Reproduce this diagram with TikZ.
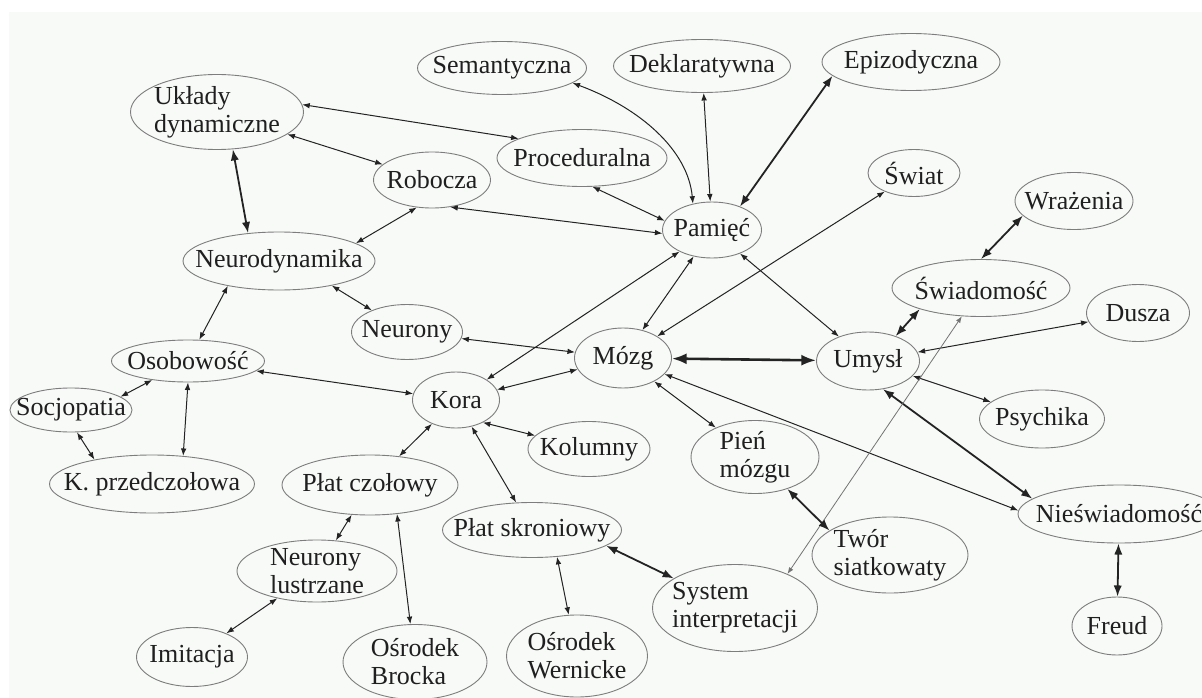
\documentclass[tikz,border=0pt]{standalone}
\usepackage{fontspec}
\setmainfont{Liberation Serif}
\usetikzlibrary{arrows.meta, shapes.geometric}

\definecolor{tlo}{RGB}{247,250,247}
\definecolor{obwod}{RGB}{125,125,125}
\definecolor{linia}{RGB}{35,35,35}

\begin{document}
\begin{tikzpicture}[
    x = 1pt,
    y = -1pt,
    line width = 1pt,
    >=Latex,
    ]

    \tikzstyle{pojecie}=[
    ellipse,
    draw = obwod,
    line width = 0.9pt,
    fill = tlo,
    inner xsep = -60pt,
    inner ysep = -14pt,
    align = left,
    text = black!88,
    font = \fontsize{26}{28}\selectfont,
    ]
    \tikzstyle{every edge}=[draw = linia]
    \tikzstyle{gruba}=[line width = 1.8pt]
    \tikzstyle{bardzo gruba}=[line width = 2.6pt]
    \tikzstyle{cienka}=[line width = 0.8pt, draw = black!55]

    \useasboundingbox (0,0) rectangle (1202,698);
    \fill[tlo] (9,12) rectangle (1202,698);

    % pamiec
    \node[pojecie, minimum width=169, minimum height=53] (semantyczna) at (502,68) {Semantyczna};
    \node[pojecie, minimum width=177, minimum height=53] (deklaratywna) at (702,66) {Deklaratywna};
    \node[pojecie, minimum width=178, minimum height=57] (epizodyczna) at (911,62) {Epizodyczna};
    \node[pojecie, minimum width=170, minimum height=57] (proceduralna) at (582,158) {Proceduralna};
    \node[pojecie, minimum width=117, minimum height=56] (robocza) at (432,180) {Robocza};
    \node[pojecie, minimum width=99, minimum height=56] (pamiec) at (712,230) {Pamięć};

    % neurodynamika
    \node[pojecie, minimum width=173, minimum height=75] (uklady) at (217,112) {Układy\\dynamiczne};
    \node[pojecie, minimum width=192, minimum height=58] (neurodyn) at (279,261) {Neurodynamika};
    \node[pojecie, minimum width=111, minimum height=55] (neurony) at (407,332) {Neurony};

    % umysl
    \node[pojecie, minimum width=92, minimum height=47] (swiat) at (914,173) {Świat};
    \node[pojecie, minimum width=118, minimum height=57] (wrazenia) at (1074,201) {Wrażenia};
    \node[pojecie, minimum width=178, minimum height=57] (swiadomosc) at (981,288) {Świadomość};
    \node[pojecie, minimum width=103, minimum height=57] (dusza) at (1138,313) {Dusza};
    \node[pojecie, minimum width=97, minimum height=60] (mozg) at (623,358) {Mózg};
    \node[pojecie, minimum width=103, minimum height=58] (umysl) at (868,361) {Umysł};
    \node[pojecie, minimum width=125, minimum height=58] (psychika) at (1042,419) {Psychika};
    \node[pojecie, minimum width=202, minimum height=58] (nieswiad) at (1119,514) {Nieświadomość};
    \node[pojecie, minimum width=90, minimum height=58] (freud) at (1117,626) {Freud};

    % osobowosc
    \node[pojecie, minimum width=153, minimum height=42] (osobowosc) at (188,361) {Osobowość};
    \node[pojecie, minimum width=122, minimum height=44] (socjopatia) at (71,410) {Socjopatia};
    \node[pojecie, minimum width=205, minimum height=58] (kprzed) at (152,484) {K. przedczołowa};

    % kora
    \node[pojecie, minimum width=87, minimum height=56] (kora) at (456,400) {Kora};
    \node[pojecie, minimum width=122, minimum height=55] (kolumny) at (589,449) {Kolumny};
    \node[pojecie, minimum width=128, minimum height=73] (pien) at (755,457) {Pień\\mózgu};
    \node[pojecie, minimum width=156, minimum height=76] (twor) at (890,555) {Twór\\siatkowaty};
    \node[pojecie, minimum width=176, minimum height=60] (czolowy) at (370,485) {Płat czołowy};
    \node[pojecie, minimum width=179, minimum height=55] (skroniowy) at (532,530) {Płat skroniowy};
    \node[pojecie, minimum width=160, minimum height=62] (lustrzane) at (317,571) {Neurony\\lustrzane};
    \node[pojecie, minimum width=165, minimum height=87] (system) at (735,608) {System\\interpretacji};
    \node[pojecie, minimum width=111, minimum height=59] (imitacja) at (192,657) {Imitacja};
    \node[pojecie, minimum width=144, minimum height=75] (brocka) at (415,662) {Ośrodek\\Brocka};
    \node[pojecie, minimum width=141, minimum height=82] (wernicke) at (577,656) {Ośrodek\\Wernicke};

    % polaczenia
    \draw[<->, linia] (semantyczna.-12) .. controls (640,108) and (688,150) .. (pamiec.126);
    \path[<->] (deklaratywna) edge (pamiec);
    \path[<->] (epizodyczna.190) edge[gruba] (pamiec.40);
    \path[<->] (uklady.5) edge (proceduralna.163);
    \path[<->] (uklady) edge (robocza);
    \path[<->] (uklady.-67) edge[gruba] (neurodyn.138);
    \path[<->] (proceduralna.-70) edge (pamiec.169);
    \path[<->] (robocza.-56) edge (pamiec.184);
    \path[<->] (robocza.241) edge (neurodyn.13);
    \path[<->] (neurodyn.206) edge (osobowosc);
    \path[<->] (neurodyn.-25) edge (neurony);
    \path[<->] (pamiec) edge (kora);
    \path[<->] (pamiec) edge (mozg);
    \path[<->] (pamiec) edge (umysl);
    \path[<->] (swiat) edge (mozg);
    \path[<->] (mozg) edge[bardzo gruba] (umysl);
    \path[<->] (mozg) edge (neurony);
    \path[<->] (mozg) edge (kora);
    \path[<->] (mozg) edge (pien);
    \path[<->] (mozg) edge (nieswiad.178);
    \path[<->] (umysl.42) edge[gruba] (swiadomosc.199);
    \path[<->] (swiadomosc.90) edge[gruba] (wrazenia.196);
    \path[<->] (umysl) edge (dusza);
    \path[<->] (umysl) edge (psychika);
    \path[<->] (umysl.-62) edge[gruba] (nieswiad.170);
    \path[<->] (swiadomosc) edge[cienka] (system.33);
    \path[<->] (osobowosc) edge (kora);
    \path[<->] (osobowosc) edge (socjopatia.15);
    \path[<->] (osobowosc.-90) edge (kprzed.42);
    \path[<->] (socjopatia.-75) edge (kprzed.157);
    \path[<->] (kora) edge (czolowy);
    \path[<->] (kora.-40) edge (kolumny);
    \path[<->] (kora) edge (skroniowy.120);
    \path[<->] (czolowy) edge (lustrzane);
    \path[<->] (czolowy.-47) edge (brocka);
    \path[<->] (lustrzane) edge (imitacja);
    \path[<->] (skroniowy.-47) edge (wernicke);
    \path[<->] (skroniowy.-12) edge[gruba] (system);
    \path[<->] (pien) edge[gruba] (twor.158);
    \path[<->] (nieswiad) edge[gruba] (freud);
\end{tikzpicture}
\end{document}
